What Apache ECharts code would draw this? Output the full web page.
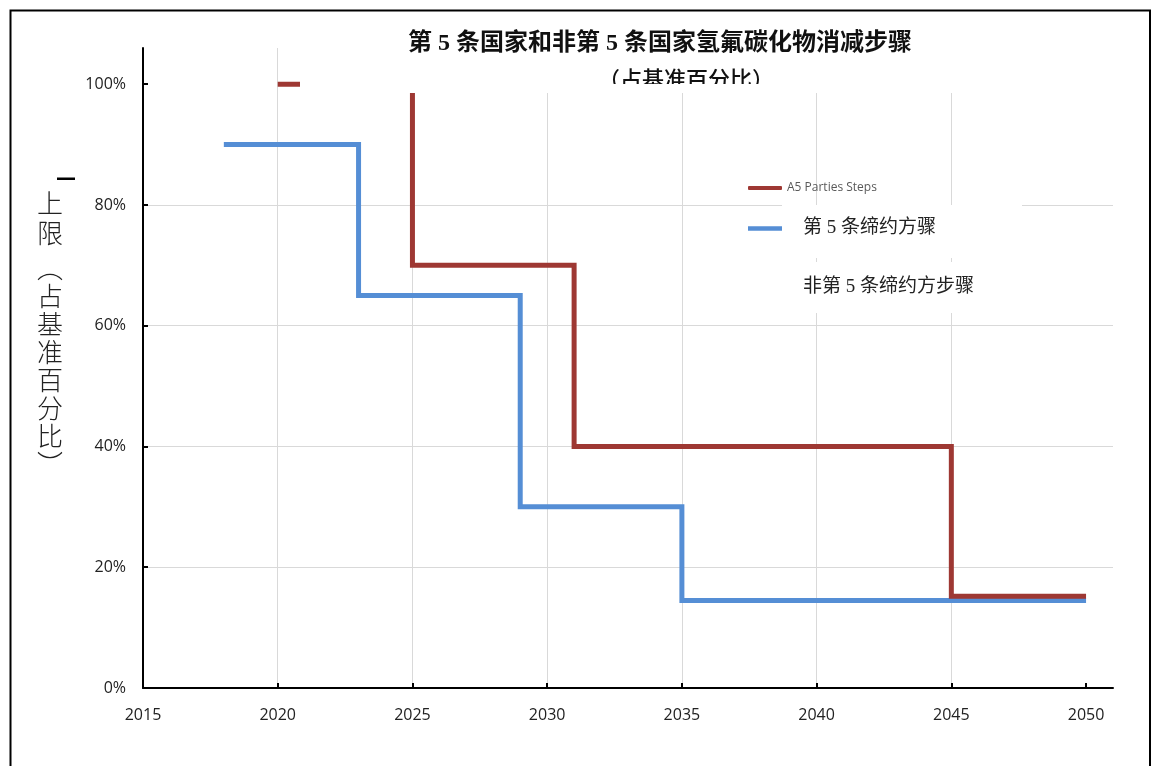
<!DOCTYPE html>
<html>
<head>
<meta charset="utf-8">
<script src="https://cdn.jsdelivr.net/npm/echarts@6/dist/echarts.min.js"></script>
<style>html,body{margin:0;padding:0;background:#fff}#c{width:1154px;height:766px}</style>
</head>
<body>
<div id="c"></div>
<script>
// ---- data ----
const titleText = '第 5 条国家和非第 5 条国家氢氟碳化物消减步骤';
const subTitleText = '（占基准百分比）';
const yAxisTitleA = '上\n限';
const yAxisTitleB = '︵\n占\n基\n准\n百\n分\n比\n︶';
const redName = 'A5 Parties Steps';
const blueName = '第 5 条缔约方骤';
const thirdLegendText = '非第 5 条缔约方步骤';
const redYears = [2020, 2025, 2031, 2045, 2050];
const redValues = [100, 70, 40, 15.2, 15.2];
const blueYears = [2018, 2023, 2029, 2035, 2050];
const blueValues = [90, 65, 30, 14.5, 14.5];
const xTickValues = [2015, 2020, 2025, 2030, 2035, 2040, 2045, 2050];
const yTickValues = [0, 20, 40, 60, 80, 100];

const serif = '"Liberation Serif","Noto Sans CJK SC",serif';
const tickFont = '"Open Sans","Noto Sans",sans-serif';

const chart = echarts.init(document.getElementById('c'), null, {renderer: 'canvas'});
chart.setOption({
  animation: false,
  backgroundColor: '#fff',
  title: {
    text: titleText,
    left: 408, top: 32, padding: 0, z: 7,
    textStyle: {fontSize: 24, fontWeight: 'bold', color: '#111', fontFamily: serif}
  },
  grid: {left: 143, right: 41, top: 48, bottom: 78, containLabel: false},
  legend: [
    {
      data: [redName], left: 748, top: 182, padding: 0,
      itemWidth: 34, itemHeight: 4, icon: 'roundRect',
      textStyle: {fontSize: 12, color: '#595959', fontFamily: tickFont}
    },
    {
      data: [blueName], left: 748, top: 219, padding: 0,
      itemWidth: 34, itemHeight: 4.5, icon: 'rect',
      textStyle: {fontSize: 19, color: '#222', fontFamily: serif, padding: [0, 0, 16, 16]}
    }
  ],
  xAxis: {
    type: 'value', min: 2015, max: 2051, interval: 5,
    axisLine: {show: true, lineStyle: {color: '#000', width: 2}},
    axisTick: {show: true, inside: true, length: 5, lineStyle: {color: '#000', width: 2}, customValues: xTickValues},
    axisLabel: {customValues: xTickValues, margin: 19, fontSize: 16, color: '#222', fontFamily: tickFont, formatter: v => String(v)},
    splitLine: {show: true, showMinLine: false, showMaxLine: false, lineStyle: {color: '#d9d9d9', width: 1}}
  },
  yAxis: {
    type: 'value', min: 0, max: 106, interval: 20,
    axisLine: {show: true, lineStyle: {color: '#000', width: 2}},
    axisTick: {show: true, inside: true, length: 5, lineStyle: {color: '#000', width: 2}, customValues: yTickValues},
    axisLabel: {customValues: yTickValues, margin: 17, fontSize: 16, color: '#222', fontFamily: tickFont, formatter: v => v + '%'},
    splitLine: {show: true, showMinLine: false, showMaxLine: false, lineStyle: {color: '#d9d9d9', width: 1}}
  },
  series: [
    {
      name: redName, type: 'line', step: 'end', symbol: 'none', z: 3,
      data: redYears.map((y, i) => [y, redValues[i]]),
      lineStyle: {color: '#9E3833', width: 5, cap: 'butt', join: 'miter'},
      itemStyle: {color: '#9E3833'}
    },
    {
      name: blueName, type: 'line', step: 'end', symbol: 'none', z: 2,
      data: blueYears.map((y, i) => [y, blueValues[i]]),
      lineStyle: {color: '#558ED5', width: 5, cap: 'butt', join: 'miter'},
      itemStyle: {color: '#558ED5'}
    }
  ],
  graphic: [
    {type: 'rect', z: 5, silent: true, shape: {x: 300, y: 22, width: 750, height: 71}, style: {fill: '#fff'}},
    {type: 'text', z: 7, silent: true, x: 686, y: 81,
      style: {text: subTitleText, fontSize: 22, fontFamily: serif, fill: '#111', align: 'center', verticalAlign: 'middle', fontWeight: 500}},
    {type: 'rect', z: 8, silent: true, shape: {x: 300, y: 84, width: 750, height: 9}, style: {fill: '#fff'}},
    {type: 'rect', z: 1, silent: true, shape: {x: 782, y: 205, width: 240, height: 53}, style: {fill: '#fff'}},
    {type: 'rect', z: 1, silent: true, shape: {x: 782, y: 262, width: 240, height: 51}, style: {fill: '#fff'}},
    {type: 'text', z: 6, silent: true, x: 803, y: 287,
      style: {text: thirdLegendText, fontSize: 19, fontFamily: serif, fill: '#222', verticalAlign: 'middle'}},
    {type: 'text', z: 6, silent: true, x: 50, y: 188,
      style: {text: yAxisTitleA, fontSize: 26, lineHeight: 30, fontFamily: '"Noto Sans CJK SC",sans-serif', fontWeight: 300, fill: '#222', align: 'center'}},
    {type: 'text', z: 6, silent: true, x: 50, y: 254,
      style: {text: yAxisTitleB, fontSize: 26, lineHeight: 28, fontFamily: '"Noto Sans CJK SC",sans-serif', fontWeight: 300, fill: '#222', align: 'center'}},
    {type: 'rect', z: 6, silent: true, shape: {x: 57, y: 177.5, width: 18, height: 2.5}, style: {fill: '#000'}},
    {type: 'rect', z: 9, silent: true, shape: {x: 10.5, y: 10.5, width: 1139.5, height: 800}, style: {fill: 'none', stroke: '#000', lineWidth: 2}}
  ]
});
</script>
</body>
</html>
